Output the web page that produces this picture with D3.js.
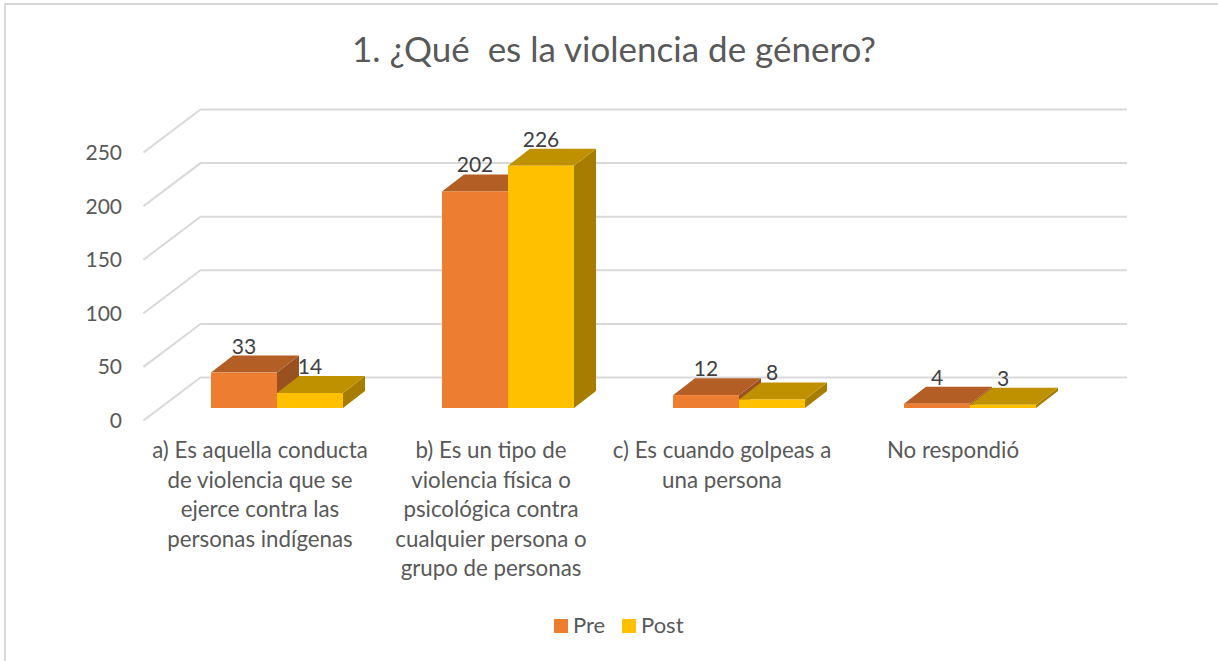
<!DOCTYPE html>
<html>
<head>
<meta charset="utf-8">
<script src="https://cdn.jsdelivr.net/npm/d3@7"></script>
<style>
  html, body { margin: 0; background: #fff; }
  svg { display: block; }
  text { font-family: Lato, "Open Sans", sans-serif; }
</style>
</head>
<body>
<svg id="chart" width="1218" height="661"></svg>
<script>
const CATEGORIES = [
  ["a) Es aquella conducta", "de violencia que se", "ejerce contra las", "personas indígenas"],
  ["b) Es un tipo de", "violencia física o", "psicológica contra", "cualquier persona o", "grupo de personas"],
  ["c) Es cuando golpeas a", "una persona"],
  ["No respondió"]
];
const SERIES_NAMES = ["Pre", "Post"];
const PRE = [33, 202, 12, 4];
const POST = [14, 226, 8, 3];
const TICKS = [0, 50, 100, 150, 200, 250];
const TITLE = "1. ¿Qué  es la violencia de género?";

const COLORS = { Pre: "#ed7d31", Post: "#ffc000" };
const TOP_SHADE = 0.75, SIDE_SHADE = 0.65;

const svg = d3.select("#chart");

// chart frame, only left and top edges show in the crop
svg.append("path")
  .attr("d", "M5,661V4H1218")
  .attr("fill", "none")
  .attr("stroke", "#d9d9d9")
  .attr("stroke-width", 2);

svg.append("text")
  .attr("x", 614).attr("y", 62)
  .attr("text-anchor", "middle")
  .attr("font-size", 35)
  .attr("fill", "#595959")
  .style("white-space", "pre")
  .text(TITLE);

// 3d depth of floor and bars
const wallDx = 57, wallDy = 43;
const barDx = 22, barDy = 17;

const floorY = 408;
const x = d3.scaleBand().domain(d3.range(CATEGORIES.length)).range([161.5, 1085.5]);
const y = d3.scaleLinear().domain([0, 250]).range([0, 268]);
const barW = 66;

const shade = (name, k) => {
  const c = d3.rgb(COLORS[name]);
  return d3.rgb(c.r * k, c.g * k, c.b * k);
};

// back wall gridlines with the side wall diagonal
const wallLeft = 200.5, wallRight = 1127, wallBase = 377.5;
svg.append("g").selectAll("path")
  .data(TICKS)
  .join("path")
  .attr("d", t => {
    const yy = wallBase - y(t);
    return `M${wallLeft - wallDx},${yy + wallDy}L${wallLeft},${yy}H${wallRight}`;
  })
  .attr("fill", "none")
  .attr("stroke", "#d9d9d9")
  .attr("stroke-width", 2);

svg.append("g").selectAll("text")
  .data(TICKS)
  .join("text")
  .attr("x", 122)
  .attr("y", t => 428 - y(t))
  .attr("text-anchor", "end")
  .attr("font-size", 21)
  .attr("fill", "#595959")
  .text(d => d);

const bars = [];
CATEGORIES.forEach((c, i) => {
  const center = x(i) + x.bandwidth() / 2;
  // Pre is drawn first so Post's front covers its side face
  bars.push({ i, name: "Pre", value: PRE[i], left: center - barW });
  bars.push({ i, name: "Post", value: POST[i], left: center });
});

const barG = svg.append("g").selectAll("g")
  .data(bars)
  .join("g");

barG.append("path") // side
  .attr("d", d => {
    const top = floorY - y(d.value), r = d.left + barW;
    return `M${r},${floorY}V${top}l${barDx},${-barDy}V${floorY - barDy}Z`;
  })
  .attr("fill", d => shade(d.name, SIDE_SHADE));

barG.append("path") // top
  .attr("d", d => {
    const top = floorY - y(d.value);
    return `M${d.left},${top}l${barDx},${-barDy}h${barW}l${-barDx},${barDy}Z`;
  })
  .attr("fill", d => shade(d.name, TOP_SHADE));

barG.append("rect") // front
  .attr("x", d => d.left)
  .attr("y", d => floorY - y(d.value))
  .attr("width", barW)
  .attr("height", d => y(d.value))
  .attr("fill", d => COLORS[d.name]);

// labels go on top of every bar
svg.append("g").selectAll("text")
  .data(bars)
  .join("text")
  .attr("x", d => d.left + barW / 2)
  .attr("y", d => floorY - y(d.value) - 19)
  .attr("text-anchor", "middle")
  .attr("font-size", 21)
  .attr("fill", "#404040")
  .text(d => d.value);

// category labels
const catG = svg.append("g").selectAll("text")
  .data(CATEGORIES)
  .join("text")
  .attr("text-anchor", "middle")
  .attr("font-size", 22.3)
  .attr("fill", "#595959");

catG.selectAll("tspan")
  .data((d, i) => d.map((line, k) => ({ line, k, i })))
  .join("tspan")
  .attr("x", d => x(d.i) + x.bandwidth() / 2 - 17)
  .attr("y", d => 458 + d.k * 29.5)
  .text(d => d.line);

// legend
const legendX = d3.scaleOrdinal().domain(SERIES_NAMES).range([554, 622]);
const legend = svg.append("g").selectAll("g")
  .data(SERIES_NAMES)
  .join("g")
  .attr("transform", d => `translate(${legendX(d)},619)`);
legend.append("rect")
  .attr("width", 14).attr("height", 14)
  .attr("fill", d => COLORS[d]);
legend.append("text")
  .attr("x", 19).attr("y", 14)
  .attr("font-size", 22)
  .attr("fill", "#595959")
  .text(d => d);
</script>
</body>
</html>
